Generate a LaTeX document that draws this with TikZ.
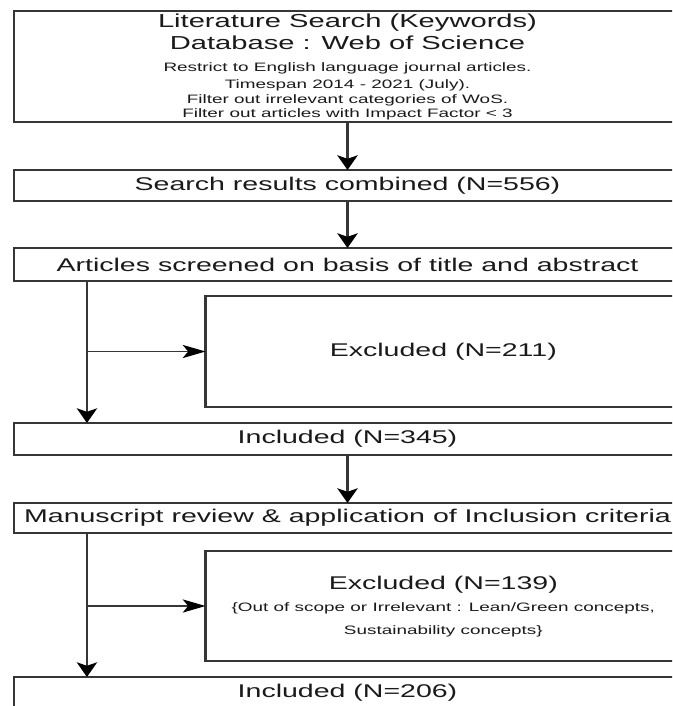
\documentclass[tikz,border=0pt]{standalone}
\usepackage{fontspec}
\setmainfont{Liberation Sans}
\usetikzlibrary{arrows.meta}
\definecolor{linec}{HTML}{363636}
\definecolor{txtc}{HTML}{1A1A1A}
\tikzset{
  box/.style={draw=linec, line width=1.4pt, inner sep=0pt, outer sep=0pt, text=txtc,
              font=\fontsize{13.8}{16}\selectfont},
  mainw/.style={minimum width=322.8pt},
  exclw/.style={minimum width=230.1pt},
  txt/.style={inner sep=0pt, anchor=base, text=txtc, font=\fontsize{13.8}{16}\selectfont},
  big/.style={font=\fontsize{14.1}{16}\selectfont},
  tinytxt/.style={font=\fontsize{9.15}{11}\selectfont},
  subtxt/.style={font=\fontsize{9.15}{11}\selectfont},
  arr/.style={draw=linec, line width=1.4pt,
              -{Stealth[length=11pt,width=9.8pt,inset=2.6pt,color=black]}},
}
\begin{document}
\begin{tikzpicture}[x=0.75pt,y=-0.75pt]
\useasboundingbox (0,0) rectangle (672,706);
\fill[white] (0,0) rectangle (672,706);
\clip (0,0) rectangle (672,706);
\begin{scope}[transform canvas={xscale=1.55}]
  % boxes
  \node[box, mainw, minimum height=83.25pt] (b1) at (224.2,66.5) {};
  \node[box, mainw, minimum height=23.25pt] (b2) at (224.2,185.5) {Search results combined (N=556)};
  \node[box, mainw, minimum height=24.75pt] (b3) at (224.2,264.5) {Articles screened on basis of title and abstract};
  \node[box, exclw, minimum height=83.25pt] (e1) at (286.0,351.5) {Excluded (N=211)};
  \node[box, mainw, minimum height=24pt] (b4) at (224.2,439) {Included (N=345)};
  \node[box, mainw, minimum height=22.5pt] (b5) at (224.2,518) {Manuscript review \& application of Inclusion criteria};
  \node[box, exclw, minimum height=82.5pt] (e2) at (286.0,606) {};
  \node[box, mainw, minimum height=24pt] (b6) at (224.2,693) {Included (N=206)};
  % texts of the first box
  \node[txt, big] (t1) at (224.2,27.5) {Literature Search (Keywords)};
  \node[txt, big] (t2) at (224.2,49.3) {Database : Web of Science};
  \node[txt, tinytxt] (t3) at (224.2,71.5) {Restrict to English language journal articles.};
  \node[txt, tinytxt] (t4) at (224.2,88.2) {Timespan 2014 - 2021 (July).};
  \node[txt, tinytxt] (t5) at (224.2,103.2) {Filter out irrelevant categories of WoS.};
  \node[txt, tinytxt] (t6) at (224.2,117.6) {Filter out articles with Impact Factor < 3};
  % texts of the second excluded box
  \node[txt] (t7) at (286.0,589) {Excluded (N=139)};
  \node[txt, subtxt] (t8) at (286.0,611) {\{Out of scope or Irrelevant : Lean/Green concepts,};
  \node[txt, subtxt] (t9) at (286.0,634.3) {Sustainability concepts\}};
  % connectors
  \coordinate (lx) at (56.1,0);
  \draw[arr] (b1.south) -- (b2.north);
  \draw[arr] (b2.south) -- (b3.north);
  \draw[arr] (b3.south -| lx) -- (b4.north -| lx);
  \draw[arr] (lx |- e1.west) -- (e1.west);
  \draw[arr] (b4.south) -- (b5.north);
  \draw[arr] (b5.south -| lx) -- (b6.north -| lx);
  \draw[arr] (lx |- e2.west) -- (e2.west);
\end{scope}
\end{tikzpicture}
\end{document}
